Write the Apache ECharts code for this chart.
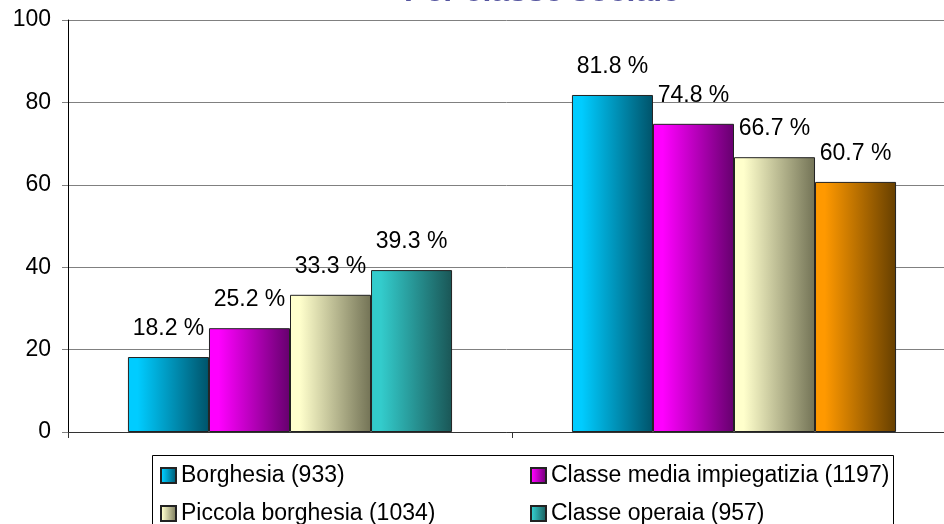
<!DOCTYPE html>
<html>
<head>
<meta charset="utf-8">
<script src="https://cdn.jsdelivr.net/npm/echarts@6/dist/echarts.min.js"></script>
<style>
html,body{margin:0;padding:0;background:#fff;}
#chart{width:944px;height:524px;}
</style>
</head>
<body>
<div id="chart"></div>
<script>
var titleText = 'Per classe sociale';
var categories = ['Sì', 'No'];
var seriesNames = ['Borghesia (933)', 'Classe media impiegatizia (1197)', 'Piccola borghesia (1034)', 'Classe operaia (957)'];
var borghesia = [18.2, 81.8];
var classeMedia = [25.2, 74.8];
var piccolaBorghesia = [33.3, 66.7];
var classeOperaia = [39.3, 60.7];
var yTicks = [0, 20, 40, 60, 80, 100];

var FONT = "'Liberation Sans', Arial, sans-serif";

function grad(light, dark) {
  return new echarts.graphic.LinearGradient(0, 0, 1, 0, [
    { offset: 0, color: light },
    { offset: 0.12, color: light },
    { offset: 1, color: dark }
  ]);
}
var fills = [
  grad('#00ccff', '#00536a'),
  grad('#ff00ff', '#66006e'),
  grad('#ffffcc', '#737356'),
  grad('#33cccc', '#1a5656')
];
var orangeFill = grad('#ff9900', '#663f00');

var values = [borghesia, classeMedia, piccolaBorghesia, classeOperaia];

var series = values.map(function (vals, i) {
  return {
    name: seriesNames[i],
    type: 'bar',
    barGap: '0%',
    barCategoryGap: '27%',
    itemStyle: { color: fills[i], borderColor: '#222', borderWidth: 1 },
    label: {
      show: true,
      position: 'top',
      distance: 17,
      formatter: '{c} %',
      fontFamily: FONT,
      fontSize: 23,
      color: '#000'
    },
    data: vals.map(function (v, j) {
      if (i === 3 && j === 1) {
        return { value: v, itemStyle: { color: orangeFill, borderColor: '#222', borderWidth: 1 } };
      }
      return v;
    })
  };
});

function legendOpt(names, left) {
  return {
    data: names,
    orient: 'vertical',
    left: left,
    top: 464,
    width: 380,
    height: 120,
    padding: 0,
    itemGap: 15,
    itemWidth: 15,
    itemHeight: 15,
    itemTextGap: 7,
    icon: 'rect',
    textStyle: { fontFamily: FONT, fontSize: 23, color: '#000' }
  };
}

var chart = echarts.init(document.getElementById('chart'));
chart.setOption({
  animation: false,
  backgroundColor: '#fff',
  title: {
    text: titleText,
    left: 542,
    textAlign: 'center',
    top: -24,
    padding: 0,
    textStyle: { fontFamily: FONT, fontSize: 32, fontWeight: 'bold', color: '#55559f' }
  },
  grid: { left: 68, top: 20, width: 888, height: 412, containLabel: false, outerBoundsMode: 'none' },
  graphic: [{
    type: 'rect',
    z: 0,
    shape: { x: 152.5, y: 455.5, width: 741, height: 100 },
    style: { fill: '#fff', stroke: '#000', lineWidth: 1 }
  }],
  legend: [
    legendOpt([seriesNames[0], seriesNames[2]], 160),
    legendOpt([seriesNames[1], seriesNames[3]], 530)
  ],
  xAxis: {
    type: 'category',
    data: categories,
    axisLine: { lineStyle: { color: '#333', width: 1 } },
    axisTick: { show: true, length: 6, lineStyle: { color: '#333' } },
    axisLabel: { show: false }
  },
  yAxis: {
    type: 'value',
    min: yTicks[0],
    max: yTicks[yTicks.length - 1],
    interval: 20,
    axisLine: { show: true, lineStyle: { color: '#000', width: 1 } },
    axisTick: { show: true, length: 6, lineStyle: { color: '#808080' } },
    axisLabel: { margin: 17, fontFamily: FONT, fontSize: 23, color: '#000' },
    splitLine: { show: true, lineStyle: { color: '#808080', width: 1 } }
  },
  series: series
});
</script>
</body>
</html>
